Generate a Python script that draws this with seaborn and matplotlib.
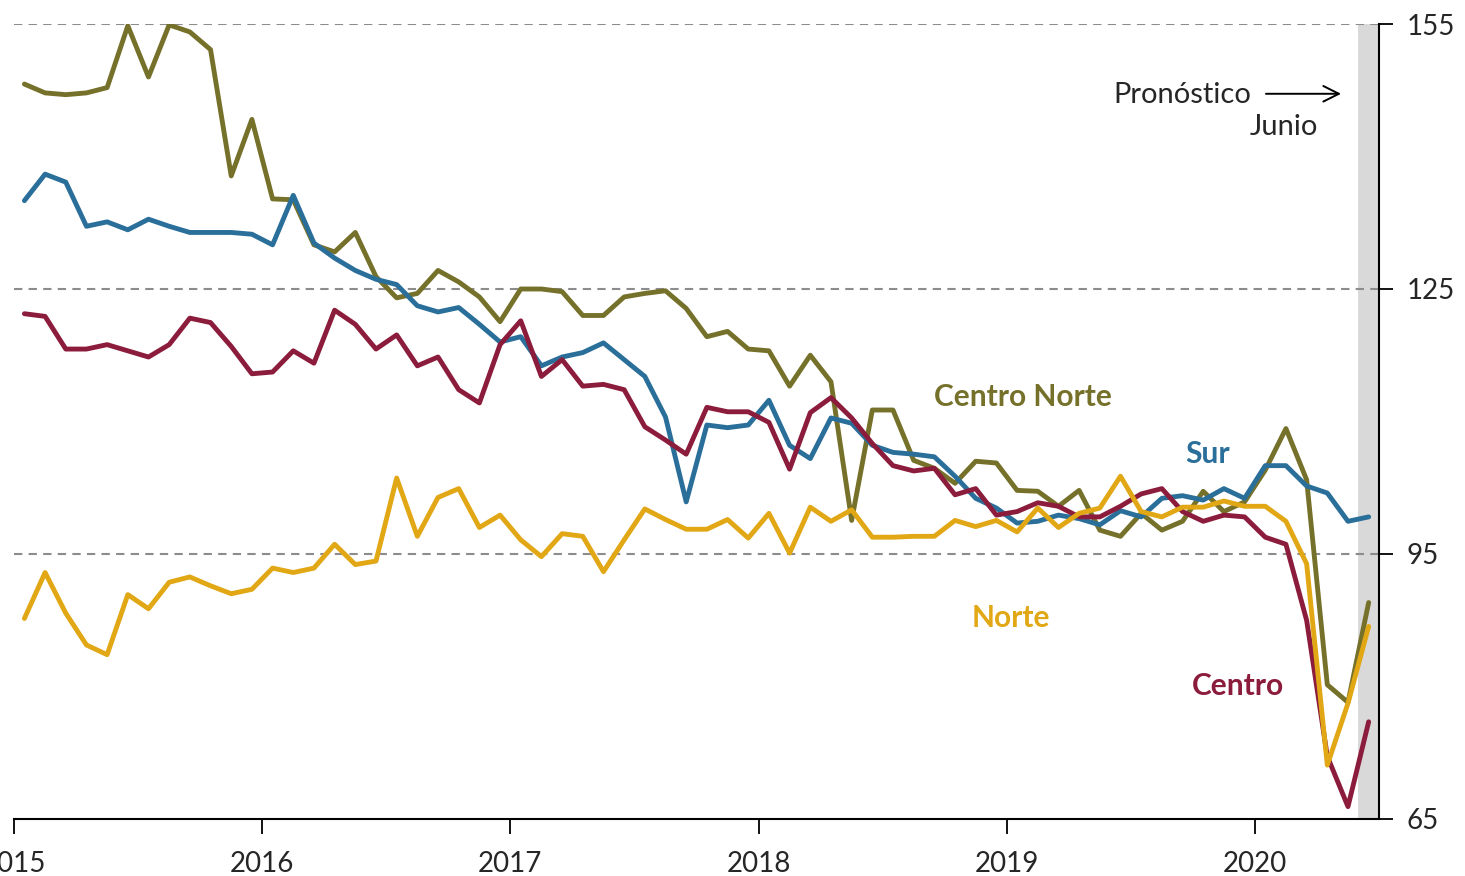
import matplotlib
matplotlib.use("Agg")
import matplotlib.pyplot as plt
import numpy as np
import pandas as pd
import seaborn as sns

# monthly index values, Jan 2015 - Jun 2020 (June 2020 = forecast)
centro_norte = [148.2, 147.2, 147.0, 147.2, 147.8, 154.8, 149.0, 154.9, 154.1, 152.1, 137.8, 144.2,
                135.2, 135.1, 130.0, 129.2, 131.4, 126.4, 124.0, 124.5, 127.1, 125.8, 124.1, 121.3,
                125.0, 125.0, 124.7, 122.0, 122.0, 124.1, 124.5, 124.8, 122.8, 119.6, 120.2, 118.2,
                118.0, 114.0, 117.5, 114.5, 98.8, 111.3, 111.3, 105.6, 104.7, 103.0, 105.5, 105.3,
                102.2, 102.1, 100.4, 102.2, 97.7, 97.0, 99.6, 97.7, 98.7, 102.1, 99.8, 100.9,
                104.5, 109.2, 103.4, 80.2, 78.2, 89.5]
sur = [135.0, 138.0, 137.1, 132.1, 132.6, 131.7, 132.9, 132.1, 131.4, 131.4, 131.4, 131.2,
       130.0, 135.6, 130.2, 128.5, 127.1, 126.1, 125.5, 123.1, 122.4, 122.9, 121.0, 119.0,
       119.6, 116.3, 117.3, 117.8, 118.9, 117.0, 115.1, 110.5, 100.9, 109.6, 109.3, 109.6,
       112.4, 107.3, 105.8, 110.4, 109.8, 107.3, 106.5, 106.3, 106.0, 103.8, 101.3, 100.2,
       98.5, 98.7, 99.4, 99.0, 98.3, 99.9, 99.2, 101.3, 101.6, 101.1, 102.4, 101.3,
       105.0, 105.0, 102.7, 101.9, 98.7, 99.2]
centro = [122.2, 121.9, 118.2, 118.2, 118.7, 118.0, 117.3, 118.7, 121.7, 121.2, 118.5, 115.4,
          115.6, 118.0, 116.6, 122.6, 121.0, 118.2, 119.8, 116.3, 117.3, 113.6, 112.1, 118.7,
          121.4, 115.1, 117.0, 114.0, 114.2, 113.6, 109.4, 107.9, 106.3, 111.6, 111.1, 111.1,
          109.9, 104.6, 111.0, 112.7, 110.4, 107.5, 105.0, 104.4, 104.7, 101.7, 102.4, 99.4,
          99.8, 100.8, 100.4, 99.2, 99.2, 100.4, 101.8, 102.4, 99.8, 98.7, 99.4, 99.2,
          96.9, 96.1, 87.5, 72.1, 66.4, 76.0]
norte = [87.7, 92.9, 88.3, 84.7, 83.6, 90.4, 88.8, 91.8, 92.4, 91.4, 90.5, 91.0,
         93.4, 92.9, 93.4, 96.1, 93.8, 94.2, 103.6, 97.0, 101.4, 102.4, 98.0, 99.4,
         96.6, 94.7, 97.3, 97.0, 93.0, 96.6, 100.1, 98.9, 97.8, 97.8, 98.9, 96.8,
         99.6, 95.1, 100.3, 98.7, 100.0, 96.9, 96.9, 97.0, 97.0, 98.8, 98.1, 98.8,
         97.5, 100.2, 98.0, 99.6, 100.2, 103.8, 99.8, 99.2, 100.3, 100.3, 101.0, 100.4,
         100.4, 98.7, 93.9, 71.1, 78.1, 86.8]

regions = ["Centro Norte", "Sur", "Centro", "Norte"]
colors = ["#76712A", "#2A6E9A", "#8C1C3C", "#E1A714"]
years = ["2015", "2016", "2017", "2018", "2019", "2020"]

months = np.arange(len(sur)) + 0.5  # mid-month position, months since Jan 2015
df = pd.concat([
    pd.DataFrame({"mes": months, "valor": vals, "region": name})
    for name, vals in zip(regions, [centro_norte, sur, centro, norte])
])

sns.set_style("white")
plt.rcParams["font.family"] = ["Lato", "DejaVu Sans"]

fig = plt.figure(figsize=(14.65, 8.76), dpi=100)
ax = fig.add_axes([0.0096, 0.0651, 0.9317, 0.9075])

ax.axvspan(65, 66, color="#D9D9D9", lw=0, zorder=0)
for v in [95, 125, 155]:
    ax.axhline(v, color="#8C8C8C", lw=1.5, ls=(0, (4, 3)), zorder=1)

sns.lineplot(data=df, x="mes", y="valor", hue="region", hue_order=regions,
             palette=colors, linewidth=3.5, legend=False, ax=ax, zorder=3)

ax.set_xlim(0, 66)
ax.set_ylim(65, 155)
ax.set_xticks(np.arange(0, 72, 12))
ax.set_xticklabels(years)
ax.set_yticks([65, 95, 125, 155])
ax.yaxis.tick_right()
ax.set_xlabel("")
ax.set_ylabel("")
for side in ["left", "top"]:
    ax.spines[side].set_visible(False)
for side in ["right", "bottom"]:
    ax.spines[side].set_color("black")
    ax.spines[side].set_linewidth(1.5)
ax.tick_params(axis="x", bottom=True, length=11, width=1.3, color="black",
               direction="out", pad=12, labelsize=20)
ax.tick_params(axis="y", right=True, left=False, length=10, width=1.3, color="black",
               direction="out", pad=10, labelsize=20)

# series labels
lab_kw = dict(fontsize=21.5, fontweight="bold", ha="center", va="center")
ax.text(48.8, 112.8, "Centro Norte", color=colors[0], **lab_kw)
ax.text(57.7, 106.3, "Sur", color=colors[1], **lab_kw)
ax.text(48.2, 87.8, "Norte", color=colors[3], **lab_kw)
ax.text(59.2, 80.1, "Centro", color=colors[2], **lab_kw)

ax.text(59.8, 147.0, "Pronóstico", fontsize=21, ha="right", va="center")
ax.text(63.05, 143.3, "Junio", fontsize=21, ha="right", va="center")
ax.annotate("", xy=(64.3, 147.1), xytext=(60.4, 147.1),
            arrowprops=dict(arrowstyle="->", color="black", lw=1.4, mutation_scale=28))

fig.savefig("out.png", dpi=100)
